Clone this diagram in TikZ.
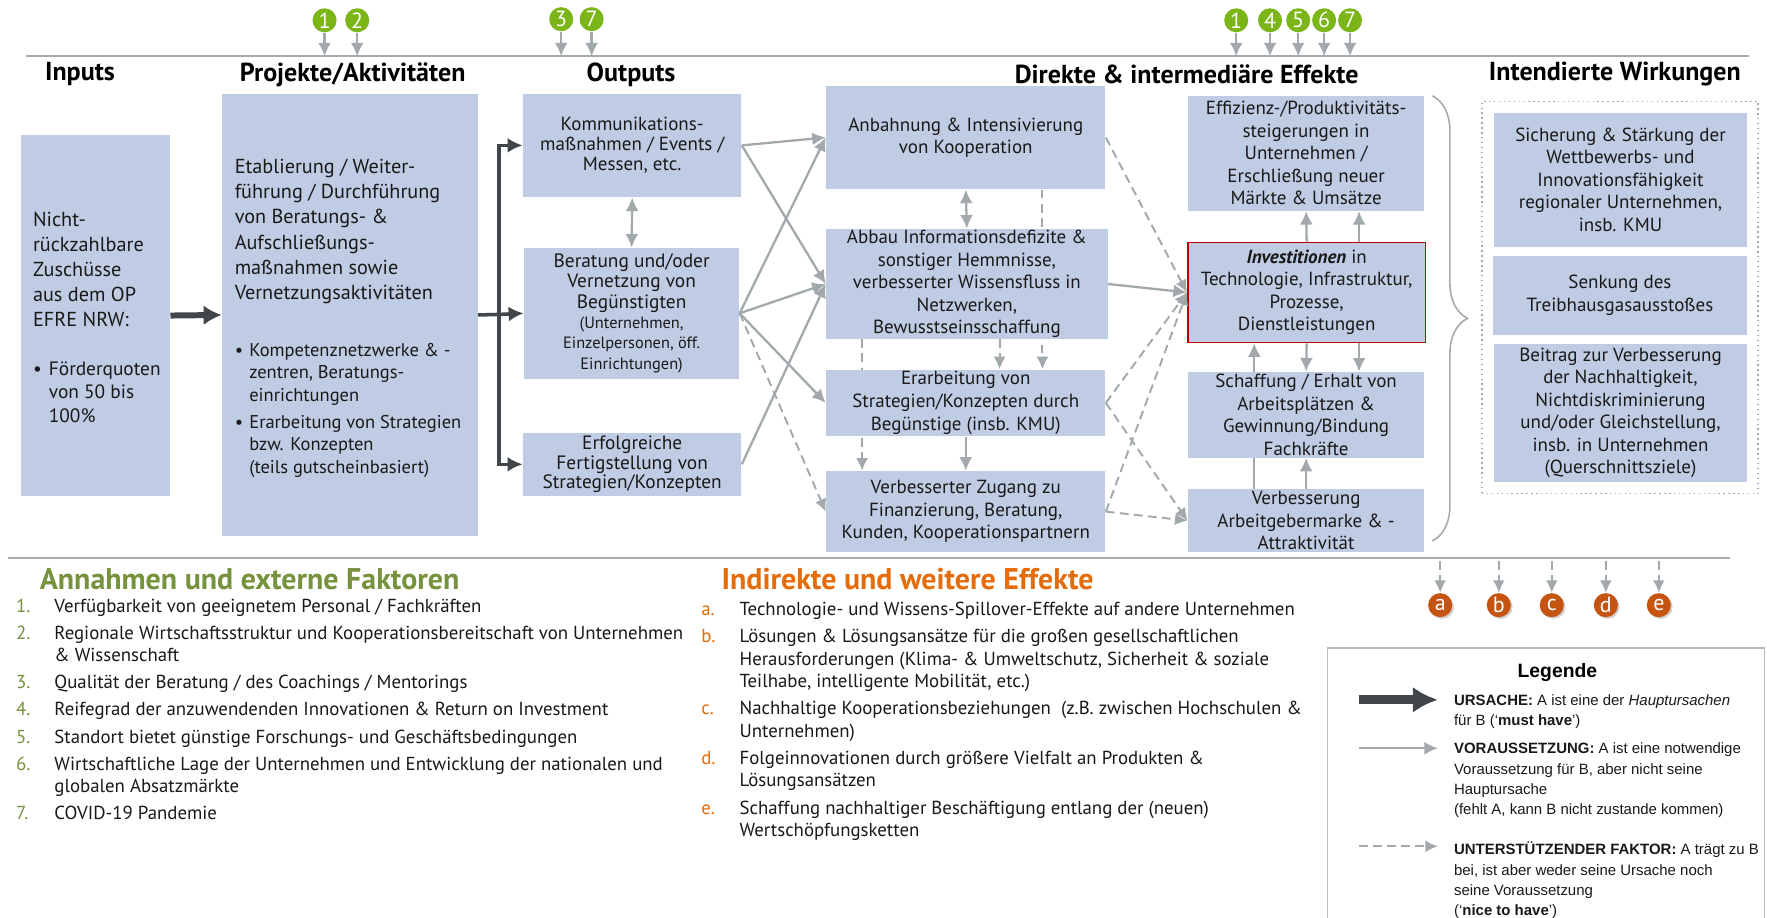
\documentclass[tikz,border=0pt]{standalone}
\usepackage{fontspec}
\setmainfont{PT Sans}
\newfontfamily\legfont{Liberation Sans}
\usetikzlibrary{arrows, arrows.meta, decorations.pathreplacing, backgrounds, fit, shadows}

\definecolor{boxblue}{RGB}{192,204,228}
\definecolor{arrgray}{RGB}{162,169,173}
\definecolor{darkarr}{RGB}{64,70,74}
\definecolor{rulegray}{RGB}{165,170,172}
\definecolor{ballgreen}{RGB}{124,181,24}
\definecolor{olivegreen}{RGB}{118,146,60}
\definecolor{ballrust}{RGB}{197,84,17}
\definecolor{efforange}{RGB}{228,108,10}
\definecolor{boxred}{RGB}{192,0,0}
\definecolor{inktext}{RGB}{25,25,25}
\newcommand{\fsz}[2]{\fontsize{#1}{#2}\selectfont}

\begin{document}
\begin{tikzpicture}
    [
        x=0.0225cm, y=-0.0225cm,
        box/.style = {fill=boxblue, inner sep=0pt, align=center, text=inktext, font=\fsz{10.8}{12.8}},
        redbox/.style = {box, draw=boxred, line width=0.9pt},
        plain/.style = {inner sep=0pt, align=left, text=inktext},
        head/.style = {inner sep=0pt, font=\fsz{14.8}{17}\bfseries},
        greenball/.style = {circle, fill=ballgreen, text=white, minimum size=0.48cm, inner sep=0pt, font=\fsz{12.5}{12.5}},
        rustball/.style = {circle, fill=ballrust, text=white, minimum size=0.48cm, inner sep=0pt, font=\fsz{12.5}{12.5}, drop shadow={shadow xshift=1pt, shadow yshift=-1pt, opacity=0.35}},
        cause/.style = {-{Latex[length=0.36cm,width=0.4cm]}, draw=darkarr, line width=3.4pt},
        fork/.style = {-{Latex[length=0.3cm,width=0.3cm]}, draw=darkarr, line width=2pt},
        prereq/.style = {-{Latex[length=0.27cm,width=0.26cm]}, draw=arrgray, line width=1.3pt},
        twoway/.style = {{Latex[length=0.27cm,width=0.26cm]}-{Latex[length=0.27cm,width=0.26cm]}, draw=arrgray, line width=1.3pt},
        support/.style = {-{Latex[length=0.25cm,width=0.24cm]}, draw=arrgray, line width=1.1pt, dash pattern=on 5pt off 3pt},
        rule/.style = {draw=rulegray, line width=1.2pt},
    ]

    \useasboundingbox (0,0) rectangle (1568,814);

    % top rule, assumptions and headings
    \coordinate (tl) at (23,50);
    \draw[rule] (tl) -- (1552,50);

    \node[greenball] (g1) at (288,18) {1};
    \node[greenball] (g2) at (317,18) {2};
    \node[greenball] (g3) at (498,17) {3};
    \node[greenball] (g7) at (525,17) {7};
    \node[greenball] (h1) at (1097,18) {1};
    \node[greenball] (h4) at (1127,18) {4};
    \node[greenball] (h5) at (1152,18) {5};
    \node[greenball] (h6) at (1175,18) {6};
    \node[greenball] (h7) at (1198,18) {7};

    \node[head] (hin) at (71,66) {Inputs};
    \node[head] (hpa) at (313,66) {Projekte/Aktivitäten};
    \node[head] (hout) at (560,66) {Outputs};
    \node[head] (heff) at (1053,66) {Direkte \& intermediäre Effekte};
    \node[head] (hwi) at (1433,66) {Intendierte Wirkungen};

    % inputs and projects
    \node[box, minimum width=2.97cm, minimum height=7.2cm] (in) at (85,280) {};
    \node[plain, anchor=north west, font=\fsz{11.5}{14.2}] (intx) at (29,188) {Nicht-\\rückzahlbare\\Zuschüsse\\aus dem OP\\EFRE NRW:};
    \node[plain, anchor=north west, font=\fsz{11}{13.2}] (inbl) at (29,321) {\makebox[9pt][l]{\textbullet}Förderquoten\\\hspace*{9pt}von 50 bis\\\hspace*{9pt}100\%};

    \node[box, minimum width=5.11cm, minimum height=8.84cm] (pa) at (310.5,279.5) {};
    \node[plain, anchor=north west, font=\fsz{11.5}{14.3}] (patx) at (208,141) {Etablierung / Weiter-\\führung / Durchführung\\von Beratungs- \&\\Aufschließungs-\\maßnahmen sowie\\Vernetzungsaktivitäten};
    \node[plain, anchor=north west, font=\fsz{10.5}{12.8}] (pabl) at (208,304) {\makebox[8.3pt][l]{\textbullet}Kompetenznetzwerke \& -\\\hspace*{8.3pt}zentren, Beratungs-\\\hspace*{8.3pt}einrichtungen\\[2.6pt]\makebox[8.3pt][l]{\textbullet}Erarbeitung von Strategien\\\hspace*{8.3pt}bzw. Konzepten\\\hspace*{8.3pt}(teils gutscheinbasiert)};

    % outputs
    \node[box, minimum width=4.365cm, minimum height=2.07cm, font=\fsz{10.8}{11.3}] (o1) at (561,129) {Kommunikations-\\maßnahmen / Events /\\Messen, etc.};
    \node[box, minimum width=4.3cm, minimum height=2.61cm, font=\fsz{11}{11.6}] (o2) at (560.5,278) {Beratung und/oder\\Vernetzung von\\Begünstigten\\{\fsz{9.3}{10.5}(Unternehmen,}\\{\fsz{9.3}{10.5}Einzelpersonen, öff.}\\{\fsz{9.3}{10.5}Einrichtungen)}};
    \node[box, minimum width=4.365cm, minimum height=1.26cm, font=\fsz{11}{11.3}] (o3) at (561,412) {Erfolgreiche\\Fertigstellung von\\Strategien/Konzepten};

    % direct effects
    \node[box, minimum width=5.58cm, minimum height=2.07cm] (d1) at (857,122) {Anbahnung \& Intensivierung\\von Kooperation};
    \node[box, minimum width=5.625cm, minimum height=2.2cm] (d2) at (858,252) {Abbau Informationsdefizite \&\\sonstiger Hemmnisse,\\verbesserter Wissensfluss in\\Netzwerken,\\Bewusstseinsschaffung};
    \node[box, minimum width=5.58cm, minimum height=1.33cm] (d3) at (857,357.5) {Erarbeitung von\\Strategien/Konzepten durch\\Begünstige (insb. KMU)};
    \node[box, minimum width=5.58cm, minimum height=1.62cm] (d4) at (857,454) {Verbesserter Zugang zu\\Finanzierung, Beratung,\\Kunden, Kooperationspartnern};

    \node[box, minimum width=4.725cm, minimum height=2.295cm] (e1) at (1159,136) {Effizienz-/Produktivitäts-\\steigerungen in\\Unternehmen /\\Erschließung neuer\\Märkte \& Umsätze};
    \node[redbox, minimum width=4.75cm, minimum height=2.0cm] (e2) at (1159.5,259.5) {\textbf{\textit{Investitionen}} in\\Technologie, Infrastruktur,\\Prozesse,\\Dienstleistungen};
    \node[box, minimum width=4.725cm, minimum height=1.71cm] (e3) at (1159,368) {Schaffung / Erhalt von\\Arbeitsplätzen \&\\Gewinnung/Bindung\\Fachkräfte};
    \node[box, minimum width=4.725cm, minimum height=1.26cm] (e4) at (1159,462) {Verbesserung\\Arbeitgebermarke \& -\\Attraktivität};

    \draw[decorate, decoration={brace, amplitude=20pt}, draw=rulegray, line width=0.9pt] (1271,85) -- (1271,480);

    % intended effects
    \node[box, minimum width=5.04cm, minimum height=2.68cm] (w1) at (1438,159.5) {Sicherung \& Stärkung der\\Wettbewerbs- und\\Innovationsfähigkeit\\regionaler  Unternehmen,\\insb. KMU};
    \node[box, minimum width=5.06cm, minimum height=1.575cm] (w2) at (1437.5,262) {Senkung des\\Treibhausgasausstoßes};
    \node[box, minimum width=5.04cm, minimum height=2.77cm] (w3) at (1438,366.5) {Beitrag zur Verbesserung\\der Nachhaltigkeit,\\Nichtdiskriminierung\\und/oder Gleichstellung,\\insb. in Unternehmen\\(Querschnittsziele)};
    \node[draw=rulegray, dotted, line width=0.8pt, inner sep=0.22cm, fit=(w1)(w2)(w3)] (wz) {};

    % connectors
    \coordinate (split) at (443,279);
    \coordinate (xa) at (765,0);
    \coordinate (xb) at (887,0);
    \coordinate (xc) at (925,0);
    \coordinate (xd) at (1113,0);
    \coordinate (xe) at (1206,0);

    \begin{scope}[on background layer]
        \fill[white] (0,0) rectangle (1568,814);

        \draw[prereq] (g1) -- (g1 |- tl);
        \draw[prereq] (g2) -- (g2 |- tl);
        \draw[prereq] (g3) -- (g3 |- tl);
        \draw[prereq] (g7) -- (g7 |- tl);
        \draw[prereq] (h1) -- (h1 |- tl);
        \draw[prereq] (h4) -- (h4 |- tl);
        \draw[prereq] (h5) -- (h5 |- tl);
        \draw[prereq] (h6) -- (h6 |- tl);
        \draw[prereq] (h7) -- (h7 |- tl);

        \draw[support] (d1.south -| xc) -- (d3.north -| xc);
        \draw[support] (d2.south -| xb) -- (d3.north -| xb);
        \draw[support] (d2.south -| xa) -- (d4.north -| xa);
        \draw[prereq] (e4.north -| xd) -- (e2.south -| xd);
    \end{scope}

    \draw[cause] (in.east) -- (pa.west);
    \draw[fork, -] (pa.east) -- (split);
    \draw[fork] (split) |- (o1.west);
    \draw[fork] (split) -- (o2.west);
    \draw[fork] (split) |- (o3.west);

    \draw[twoway] (o1.south) -- (o2.north);
    \draw[prereq] (o1.east) -- (d1.west);
    \draw[prereq] (o1.east) -- (d2.west);
    \draw[prereq] (o2.east) -- (d1.west);
    \draw[prereq] (o2.east) -- (d2.west);
    \draw[prereq] (o2.east) -- (d3.west);
    \draw[support] (o2.east) -- (d4.west);
    \draw[prereq] (o3.east) -- (d2.west);

    \draw[twoway] (d1.south) -- (d2.north);
    \draw[prereq] (d3.south) -- (d4.north);

    \draw[support] (d1.east) -- (e2.west);
    \draw[prereq] (d2.east) -- (e2.west);
    \draw[support] (d3.east) -- (e2.west);
    \draw[support] (d3.east) -- (e4.west);
    \draw[support] (d4.east) -- (e2.west);
    \draw[support] (d4.east) -- (e4.west);

    \draw[prereq] (e2.north) -- (e1.south);
    \draw[prereq] (e2.north -| xe) -- (e1.south -| xe);
    \draw[prereq] (e2.south) -- (e3.north);
    \draw[prereq] (e2.south -| xe) -- (e3.north -| xe);
    \draw[prereq] (e4.north) -- (e3.south);

    % bottom rule and further effects
    \coordinate (bl) at (0,498);
    \draw[rule] (7,495) -- (1535,495);

    \node[rustball] (ra) at (1278,537) {a};
    \node[rustball] (rb) at (1330,537) {b};
    \node[rustball] (rc) at (1377,537) {c};
    \node[rustball] (rd) at (1425,537) {d};
    \node[rustball] (re) at (1472,537) {e};
    \draw[support] (ra |- bl) -- (ra);
    \draw[support] (rb |- bl) -- (rb);
    \draw[support] (rc |- bl) -- (rc);
    \draw[support] (rd |- bl) -- (rd);
    \draw[support] (re |- bl) -- (re);

    \node[inner sep=0pt, anchor=west, text=olivegreen, font=\fsz{17}{20}\bfseries] (hann) at (35,514) {Annahmen und externe Faktoren};
    \node[inner sep=0pt, anchor=west, text=efforange, font=\fsz{17}{20}\bfseries] (hind) at (640,514) {Indirekte und weitere Effekte};

    \node[plain, anchor=north west, font=\fsz{10.7}{12.8}] (ann) at (14,531) {%
        \makebox[0.765cm][l]{\textcolor{olivegreen}{1.}}Verfügbarkeit von geeignetem Personal / Fachkräften\\[2.6pt]%
        \makebox[0.765cm][l]{\textcolor{olivegreen}{2.}}Regionale Wirtschaftsstruktur und Kooperationsbereitschaft von Unternehmen\\%
        \hspace*{0.765cm}\& Wissenschaft\\[2.6pt]%
        \makebox[0.765cm][l]{\textcolor{olivegreen}{3.}}Qualität der Beratung / des Coachings / Mentorings\\[2.6pt]%
        \makebox[0.765cm][l]{\textcolor{olivegreen}{4.}}Reifegrad der anzuwendenden Innovationen \& Return on Investment\\[2.6pt]%
        \makebox[0.765cm][l]{\textcolor{olivegreen}{5.}}Standort bietet günstige Forschungs- und Geschäftsbedingungen\\[2.6pt]%
        \makebox[0.765cm][l]{\textcolor{olivegreen}{6.}}Wirtschaftliche Lage der Unternehmen und Entwicklung der nationalen und\\%
        \hspace*{0.765cm}globalen Absatzmärkte\\[2.6pt]%
        \makebox[0.765cm][l]{\textcolor{olivegreen}{7.}}COVID-19 Pandemie};

    \node[plain, anchor=north west, font=\fsz{10.7}{12.8}] (ind) at (622,534) {%
        \makebox[0.765cm][l]{\textcolor{efforange}{a.}}Technologie- und Wissens-Spillover-Effekte auf andere Unternehmen\\[2.6pt]%
        \makebox[0.765cm][l]{\textcolor{efforange}{b.}}Lösungen \& Lösungsansätze für die großen gesellschaftlichen\\%
        \hspace*{0.765cm}Herausforderungen (Klima- \& Umweltschutz, Sicherheit \& soziale\\%
        \hspace*{0.765cm}Teilhabe, intelligente Mobilität, etc.)\\[2.6pt]%
        \makebox[0.765cm][l]{\textcolor{efforange}{c.}}Nachhaltige Kooperationsbeziehungen\ \ (z.B. zwischen Hochschulen \&\\%
        \hspace*{0.765cm}Unternehmen)\\[2.6pt]%
        \makebox[0.765cm][l]{\textcolor{efforange}{d.}}Folgeinnovationen durch größere Vielfalt an Produkten \&\\%
        \hspace*{0.765cm}Lösungsansätzen\\[2.6pt]%
        \makebox[0.765cm][l]{\textcolor{efforange}{e.}}Schaffung nachhaltiger Beschäftigung entlang der (neuen)\\%
        \hspace*{0.765cm}Wertschöpfungsketten};

    % legend
    \node[draw=rulegray!80, line width=0.8pt, minimum width=8.73cm, minimum height=5.85cm] (leg) at (1372,705) {};
    \node[inner sep=0pt, font=\legfont\fsz{11}{13}\bfseries] (legt) at (1382,597) {Legende};

    \coordinate (l1a) at (1206,621);
    \coordinate (l1b) at (1276,621);
    \coordinate (l2a) at (1206,664);
    \coordinate (l2b) at (1276,664);
    \coordinate (l3a) at (1206,751);
    \coordinate (l3b) at (1276,751);
    \draw[cause, line width=5pt, -{Latex[length=0.5cm,width=0.52cm]}] (l1a) -- (l1b);
    \draw[prereq] (l2a) -- (l2b);
    \draw[support] (l3a) -- (l3b);

    \node[plain, anchor=north west, font=\legfont\fsz{8.5}{11.5}] (leg1) at (1290,616) {\textbf{URSACHE:} A ist eine der \textit{Hauptursachen}\\für B (‘\textbf{must have}’)};
    \node[plain, anchor=north west, font=\legfont\fsz{8.5}{11.5}] (leg2) at (1290,659) {\textbf{VORAUSSETZUNG:} A ist eine notwendige\\Voraussetzung für B, aber nicht seine\\Hauptursache\\(fehlt A, kann B nicht zustande kommen)};
    \node[plain, anchor=north west, font=\legfont\fsz{8.5}{11.5}] (leg3) at (1290,747) {\textbf{UNTERSTÜTZENDER FAKTOR:} A trägt zu B\\bei, ist aber weder seine Ursache noch\\seine Voraussetzung\\(‘\textbf{nice to have}’)};
\end{tikzpicture}
\end{document}
